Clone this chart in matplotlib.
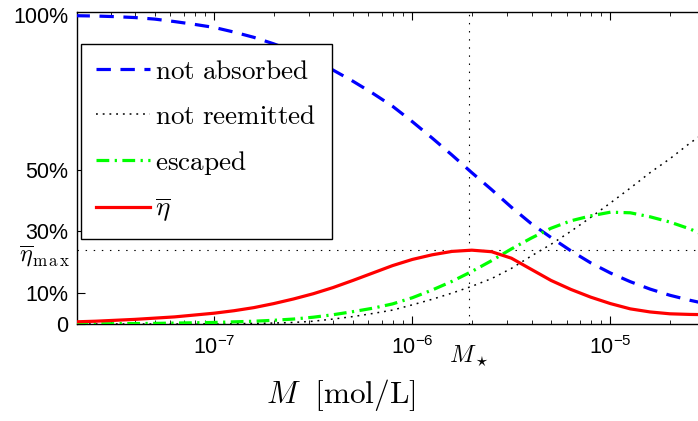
import numpy as np
import matplotlib
matplotlib.use("Agg")
import matplotlib.pyplot as plt
from matplotlib.font_manager import FontProperties
from matplotlib.transforms import blended_transform_factory

plt.rcParams['font.family'] = ['Liberation Sans', 'DejaVu Sans']

# ---- data ----
log_M = [-7.7, -7.6, -7.5, -7.4, -7.3, -7.2, -7.1, -7.0, -6.9, -6.8, -6.7,
         -6.6, -6.5, -6.4, -6.3, -6.2, -6.1, -6.0, -5.9, -5.8, -5.7, -5.6,
         -5.5, -5.4, -5.3, -5.2, -5.1, -5.0, -4.9, -4.8, -4.7, -4.6, -4.5]

not_absorbed = [0.998, 0.997, 0.995, 0.992, 0.987, 0.979, 0.970, 0.960, 0.945,
                0.928, 0.907, 0.883, 0.855, 0.822, 0.786, 0.747, 0.705, 0.655,
                0.602, 0.547, 0.490, 0.435, 0.378, 0.325, 0.280, 0.237, 0.198,
                0.165, 0.137, 0.113, 0.093, 0.077, 0.063]

not_reemitted = [0.0, 0.0, 0.0, 0.0, 0.0, 0.0, 0.0003, 0.0005, 0.001, 0.002,
                 0.003, 0.005, 0.009, 0.016, 0.024, 0.034, 0.045, 0.062, 0.080,
                 0.100, 0.122, 0.147, 0.180, 0.220, 0.258, 0.300, 0.345, 0.392,
                 0.440, 0.490, 0.535, 0.585, 0.630]

escaped = [0.0, 0.0005, 0.001, 0.0015, 0.002, 0.003, 0.004, 0.005, 0.007,
           0.009, 0.012, 0.016, 0.022, 0.030, 0.040, 0.051, 0.065, 0.085,
           0.110, 0.138, 0.170, 0.205, 0.243, 0.278, 0.310, 0.334, 0.350,
           0.362, 0.360, 0.347, 0.330, 0.308, 0.280]

eta_bar = [0.007, 0.009, 0.012, 0.015, 0.019, 0.023, 0.029, 0.035, 0.043,
           0.053, 0.066, 0.081, 0.098, 0.118, 0.141, 0.165, 0.189, 0.209,
           0.224, 0.235, 0.239, 0.234, 0.213, 0.177, 0.141, 0.112, 0.087,
           0.066, 0.049, 0.039, 0.033, 0.031, 0.030]

M_star = 1.93e-6
eta_max = 0.239

legend_labels = [r'$\mathrm{not\ absorbed}$', r'$\mathrm{not\ reemitted}$',
                 r'$\mathrm{escaped}$', r'$\overline{\eta}$']
ytick_vals = [0, 0.1, 0.3, 0.5, 1.0]
ytick_labels = ['0', '10%', '30%', '50%', '100%']
xtick_vals = [1e-7, 1e-6, 1e-5]

M = 10.0 ** np.array(log_M)

# ---- figure ----
W, H = 698, 421
fig = plt.figure(figsize=(W / 100, H / 100), dpi=100)
ax_l, ax_r, ax_t, ax_b = 77, 705, 12, 324
ax = fig.add_axes([ax_l / W, 1 - ax_b / H, (ax_r - ax_l) / W, (ax_b - ax_t) / H])
ax.set_xscale('log')
ax.set_xlim(2.03e-8, 3e-5)
ax.set_ylim(0, 1.01)

# reference lines
ax.axvline(M_star, color='black', lw=0.8, dashes=(1.3, 6), zorder=1)
ax.axhline(eta_max, color='black', lw=0.8, dashes=(1.3, 6), zorder=1)

ax.plot(M, not_absorbed, color='#0000ff', lw=2.3, dashes=(4.5, 3), label=legend_labels[0], zorder=3)
ax.plot(M, not_reemitted, color='black', lw=1.1, dashes=(1.2, 3.2), label=legend_labels[1], zorder=3)
ax.plot(M, escaped, color='#00ff00', lw=2.3, dashes=(4, 1.7, 0.7, 1.7), label=legend_labels[2], zorder=3)
ax.plot(M, eta_bar, color='#ff0000', lw=2.3, label=legend_labels[3], zorder=4,
        solid_joinstyle='round')

ax.set_xticks(xtick_vals)
ax.set_yticks(ytick_vals)
ax.set_yticklabels(ytick_labels)
ax.tick_params(axis='both', which='major', direction='in', length=6, width=0.8,
               labelsize=15.5, top=True, right=False)
ax.tick_params(axis='x', which='minor', direction='in', length=3, width=0.6, top=True)
ax.tick_params(axis='x', which='major', pad=9)
ax.tick_params(axis='y', which='major', pad=6)
for s in ax.spines.values():
    s.set_linewidth(1.0)

cmprop = dict(math_fontfamily='cm')
# M_star label under axis
ax.text(M_star, -0.06, r'$M_\star$', transform=blended_transform_factory(ax.transData, ax.transAxes),
        ha='center', va='top', fontsize=17.5, **cmprop)
# eta_max label left of axis
ax.text(-0.011, 0.221, r'$\overline{\eta}_{\mathrm{m\,a\,x}}$',
        transform=blended_transform_factory(ax.transAxes, ax.transData),
        ha='right', va='center', fontsize=17.5, **cmprop)

fig.text(341 / W, 1 - 395 / H, r'$M\ \ [\mathrm{mol/L}]$', ha='center', va='center',
         fontsize=22.5, **cmprop)

leg = ax.legend(loc='upper left', bbox_to_anchor=((81 - ax_l) / (ax_r - ax_l), (ax_b - 44) / (ax_b - ax_t)),
                borderaxespad=0, prop=FontProperties(size=19.5, math_fontfamily='cm'),
                handlelength=2.0, handletextpad=0.2, labelspacing=0.7, borderpad=0.55,
                fancybox=False, framealpha=1, edgecolor='black')
leg.get_frame().set_linewidth(1.0)

fig.savefig('out.png', dpi=100)
